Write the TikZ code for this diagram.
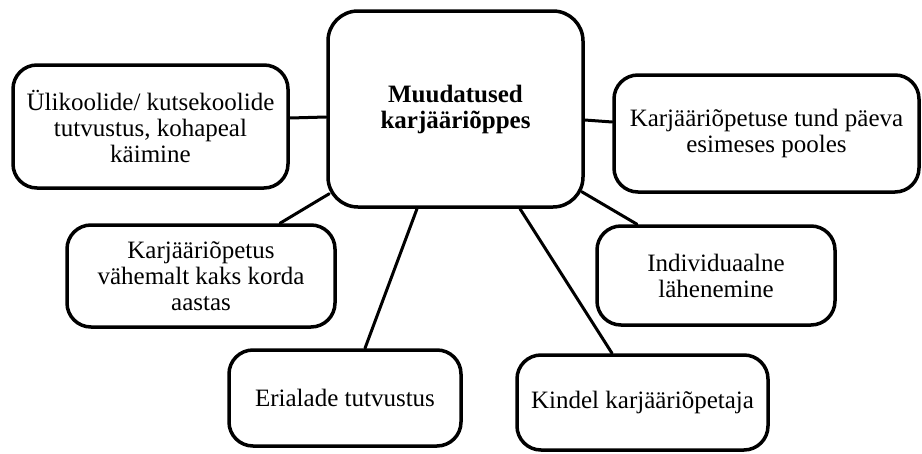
\documentclass[tikz,border=0pt]{standalone}
\usepackage{fontspec}
\setmainfont{Liberation Serif}

\begin{document}
\begin{tikzpicture}[line cap=round,line join=round,x=1pt,y=-1pt,
  box/.style={draw,line width=3.5pt,rounded corners=24pt,align=center,inner sep=0pt,font=\fontsize{25}{26}\selectfont},
  link/.style={line width=3pt}]
\useasboundingbox (0,0) rectangle (922,453);
% keskne kast
\node[box,minimum width=255,minimum height=196,rounded corners=30pt,font=\bfseries\fontsize{25}{26}\selectfont] (muutus) at (455.5,109) {Muudatused\\karjääriõppes};
% ymbritsevad kastid
\node[box,minimum width=275,minimum height=123] (ylikool) at (150.5,126.5) {Ülikoolide/ kutsekoolide\\tutvustus, kohapeal\\käimine};
\node[box,minimum width=305,minimum height=117] (tund) at (766.5,133.5) {Karjääriõpetuse tund päeva\\esimeses pooles};
\node[box,minimum width=268,minimum height=102] (kaks) at (201,276) {Karjääriõpetus\\vähemalt kaks korda\\aastas};
\node[box,minimum width=238,minimum height=99] (indiv) at (716,275.5) {Individuaalne\\lähenemine};
\node[box,minimum width=232,minimum height=96] (eriala) at (345,398) {Erialade tutvustus};
\node[box,minimum width=251,minimum height=95] (kindel) at (642.5,402.5) {Kindel karjääriõpetaja};

\draw[link] ([yshift=8.5pt]ylikool.east) -- ([yshift=-8pt]muutus.west);
\draw[link] ([yshift=-11pt]muutus.east) -- ([yshift=11.5pt]tund.west);
\draw[link] ([xshift=79pt]kaks.north) -- ([xshift=3pt,yshift=15pt]muutus.south west);
\draw[link] ([xshift=20pt]eriala.north) -- ([xshift=-38.5pt]muutus.south);
\draw[link] ([xshift=64.5pt]muutus.south) -- ([xshift=-30.5pt]kindel.north);
\draw[link] ([xshift=-3pt,yshift=17pt]muutus.south east) -- ([xshift=-79pt]indiv.north);

\end{tikzpicture}
\end{document}
